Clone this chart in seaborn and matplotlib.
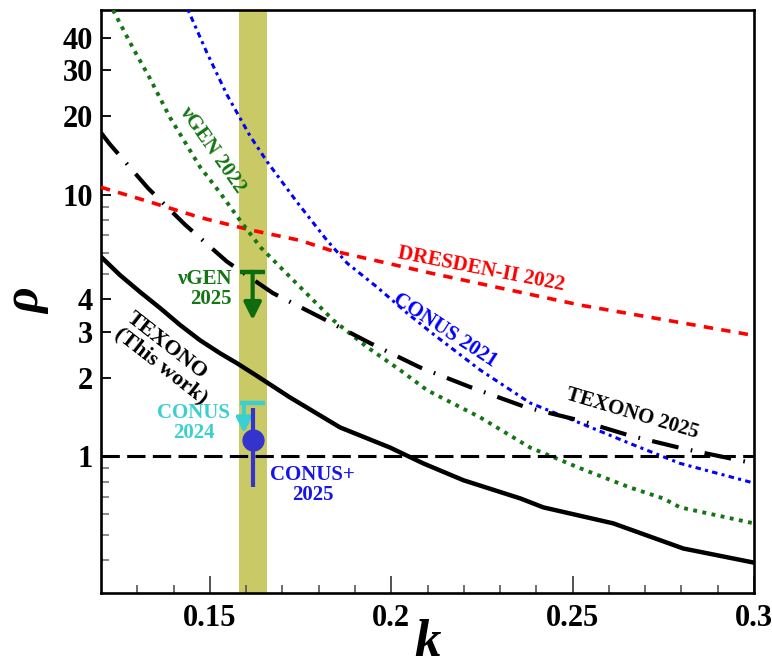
import numpy as np
import pandas as pd
import matplotlib
matplotlib.use("Agg")
import matplotlib.pyplot as plt
from matplotlib.ticker import FixedLocator, NullFormatter, FixedFormatter
import seaborn as sns

# ---------------- data ----------------
texono_k = [0.120, 0.1252, 0.1308, 0.1363, 0.1418, 0.1473, 0.1528, 0.1575, 0.1630, 0.1721, 0.1859, 0.1997, 0.2088, 0.2199, 0.2356, 0.2419, 0.2612, 0.2805, 0.300]
texono_v = [5.8, 4.94, 4.25, 3.69, 3.18, 2.78, 2.48, 2.27, 2.03, 1.68, 1.29, 1.08, 0.94, 0.81, 0.69, 0.638, 0.554, 0.444, 0.392]

texono25_k = [0.120, 0.1225, 0.1330, 0.1432, 0.1547, 0.1674, 0.1809, 0.1942, 0.2079, 0.2218, 0.2372, 0.2521, 0.2658, 0.2805, 0.300]
texono25_v = [17.3, 15.6, 10.6, 7.69, 5.56, 4.21, 3.38, 2.71, 2.19, 1.84, 1.54, 1.37, 1.20, 1.07, 0.94]

dresden_k = [0.120, 0.1335, 0.1473, 0.1611, 0.1749, 0.1831, 0.2107, 0.2521, 0.300]
dresden_v = [10.7, 9.4, 8.2, 7.35, 6.7, 6.15, 5.03, 3.79, 2.90]

nugen22_k = [0.1233, 0.1288, 0.1335, 0.1390, 0.1473, 0.1528, 0.1583, 0.1640, 0.1749, 0.1840, 0.1933, 0.2024, 0.2099, 0.2245, 0.2383, 0.2521, 0.2658, 0.2750, 0.2796, 0.300]
nugen22_v = [51, 36.5, 27.9, 19.8, 12.8, 10.2, 8.0, 6.3, 4.44, 3.32, 2.62, 2.14, 1.79, 1.41, 1.08, 0.90, 0.76, 0.69, 0.638, 0.554]

conus21_k = [0.1440, 0.1492, 0.1547, 0.1611, 0.1658, 0.1740, 0.1823, 0.1878, 0.1961, 0.2044, 0.2107, 0.2245, 0.2383, 0.2521, 0.2658, 0.2796, 0.300]
conus21_v = [51, 35.0, 24.2, 16.8, 13.4, 9.4, 6.7, 5.49, 4.44, 3.53, 3.0, 2.14, 1.60, 1.34, 1.12, 0.94, 0.79]

band_k = [0.1580, 0.1658]

nugen25_k, nugen25_cap, nugen25_tip = 0.1618, 5.08, 3.32
conus24_k, conus24_cap, conus24_tip = 0.1594, 1.60, 1.225
cap_k = [0.1583, 0.1652]
conusp_k, conusp_v, conusp_lo, conusp_hi = 0.1618, 1.15, 0.76, 1.53

xticks_major = [0.15, 0.2, 0.25, 0.3]
xticks_labels = ["0.15", "0.2", "0.25", "0.3"]
xticks_minor = [0.13, 0.14, 0.16, 0.17, 0.18, 0.19, 0.21, 0.22, 0.23, 0.24, 0.26, 0.27, 0.28, 0.29]
yticks_major = [1, 2, 3, 4, 10, 20, 30, 40]
yticks_labels = ["1", "2", "3", "4", "10", "20", "30", "40"]
yticks_minor = [0.4, 0.5, 0.6, 0.7, 0.8, 0.9, 5, 6, 7, 8, 9]

# ---------------- style ----------------
sns.set_theme(style="ticks")
plt.rcParams["font.family"] = ["Liberation Serif", "DejaVu Serif"]
plt.rcParams["font.weight"] = "bold"
plt.rcParams["axes.labelweight"] = "bold"
plt.rcParams["text.color"] = "black"
plt.rcParams["axes.labelcolor"] = "black"

fig = plt.figure(figsize=(7.72, 6.69), dpi=100)
ax = fig.add_axes([101 / 772, 1 - 593 / 669, 653 / 772, 583 / 669])

ax.axvspan(band_k[0], band_k[1], color="#C9C966", lw=0, zorder=0)

GREEN = "#157515"

def curve(k, v, **kw):
    df = pd.DataFrame({"k": k, "v": v})
    sns.lineplot(data=df, x="k", y="v", ax=ax, estimator=None, sort=False, **kw)

curve(dresden_k, dresden_v, color="#FF0000", lw=2.6, linestyle=(0, (2.6, 2.3)), zorder=3)
curve(conus21_k, conus21_v, color="#0000FF", lw=2.2, linestyle=(0, (1.0, 1.4, 1.8, 1.4)), zorder=3)
curve(nugen22_k, nugen22_v, color=GREEN, lw=2.8, linestyle=(0, (1.0, 1.4)), zorder=3)
curve(texono25_k, texono25_v, color="black", lw=3.0, linestyle=(0, (6.5, 3.0, 0.4, 3.0)), zorder=4)
curve(texono_k, texono_v, color="black", lw=3.2, linestyle="-", zorder=4)

ax.axhline(1.0, color="black", lw=2.2, linestyle=(0, (6.0, 2.4)), zorder=3)

# vGEN 2025 upper limit
ax.plot(cap_k, [nugen25_cap, nugen25_cap], color="#0E6B0E", lw=3.2, solid_capstyle="butt", zorder=5)
ax.annotate("", xy=(nugen25_k, nugen25_tip), xytext=(nugen25_k, nugen25_cap),
            arrowprops=dict(arrowstyle="-|>", color="#0E6B0E", lw=3.0, mutation_scale=26,
                            shrinkA=0, shrinkB=0), zorder=5)
# CONUS 2024 upper limit
ax.plot(cap_k, [conus24_cap, conus24_cap], color="#3CCFCF", lw=3.2, solid_capstyle="butt", zorder=5)
ax.annotate("", xy=(conus24_k, conus24_tip), xytext=(conus24_k, conus24_cap),
            arrowprops=dict(arrowstyle="-|>", color="#3CCFCF", lw=3.0, mutation_scale=22,
                            shrinkA=0, shrinkB=0), zorder=5)
# CONUS+ 2025 measurement
ax.errorbar([conusp_k], [conusp_v], yerr=[[conusp_v - conusp_lo], [conusp_hi - conusp_v]],
            fmt="o", color="#3434CC", ms=15, elinewidth=3.0, capsize=0, zorder=6)

# ---------------- labels ----------------
fs = 15
ax.text(0.1506, 14.9, "νGEN 2022", color=GREEN, fontsize=fs, fontweight="bold", rotation=-55,
        rotation_mode="anchor", ha="center", va="center")
ax.text(0.1561, 4.36, "νGEN\n2025", color=GREEN, fontsize=fs, fontweight="bold",
        ha="right", va="center", multialignment="right", linespacing=1.0)
ax.text(0.1382, 2.37, "TEXONO\n(This work)", color="black", fontsize=fs + 1, fontweight="bold",
        rotation=-38, rotation_mode="anchor", ha="center", va="center",
        multialignment="left", linespacing=1.0)
ax.text(0.1455, 1.34, "CONUS\n2024", color="#3CCFCF", fontsize=fs, fontweight="bold",
        ha="center", va="center", multialignment="center", linespacing=1.0)
ax.text(0.1784, 0.774, "CONUS+\n2025", color="#1515E6", fontsize=fs, fontweight="bold",
        ha="center", va="center", multialignment="center", linespacing=1.0)
ax.text(0.2247, 5.2, "DRESDEN-II 2022", color="#FF0000", fontsize=fs, fontweight="bold",
        rotation=-11, rotation_mode="anchor", ha="center", va="center")
ax.text(0.2148, 3.04, "CONUS 2021", color="#0000FF", fontsize=fs, fontweight="bold",
        rotation=-33, rotation_mode="anchor", ha="center", va="center")
ax.text(0.2664, 1.46, "TEXONO 2025", color="black", fontsize=fs, fontweight="bold",
        rotation=-16.5, rotation_mode="anchor", ha="center", va="center")

# ---------------- axes ----------------
ax.set_yscale("log")
ax.set_xlim(0.12, 0.30)
ax.set_ylim(0.30, 51)

ax.xaxis.set_major_locator(FixedLocator(xticks_major))
ax.xaxis.set_major_formatter(FixedFormatter(xticks_labels))
ax.xaxis.set_minor_locator(FixedLocator(xticks_minor))
ax.xaxis.set_minor_formatter(NullFormatter())
ax.yaxis.set_major_locator(FixedLocator(yticks_major))
ax.yaxis.set_major_formatter(FixedFormatter(yticks_labels))
ax.yaxis.set_minor_locator(FixedLocator(yticks_minor))
ax.yaxis.set_minor_formatter(NullFormatter())

ax.tick_params(axis="x", which="major", direction="in", length=12, width=1.3, color="#444444",
               labelsize=22, pad=8, labelcolor="black")
ax.tick_params(axis="x", which="minor", direction="in", length=6, width=1.2, color="#555555")
ax.tick_params(axis="y", which="major", direction="in", length=7.5, width=1.3, color="black",
               labelsize=22, pad=6, labelcolor="black")
ax.tick_params(axis="y", which="minor", direction="in", length=5.5, width=1.2, color="#777777")
for lab in ax.get_xticklabels() + ax.get_yticklabels():
    lab.set_fontweight("bold")

for s in ax.spines.values():
    s.set_linewidth(1.9)
    s.set_color("black")

ax.set_xlabel("k", fontsize=38, fontstyle="italic", fontweight="bold")
ax.xaxis.set_label_coords(0.5, -0.045)
ax.set_ylabel("ρ", fontsize=36, fontstyle="italic", fontweight="bold")
ax.yaxis.set_label_coords(-0.078, 0.5)

fig.savefig("out.png", dpi=100)
